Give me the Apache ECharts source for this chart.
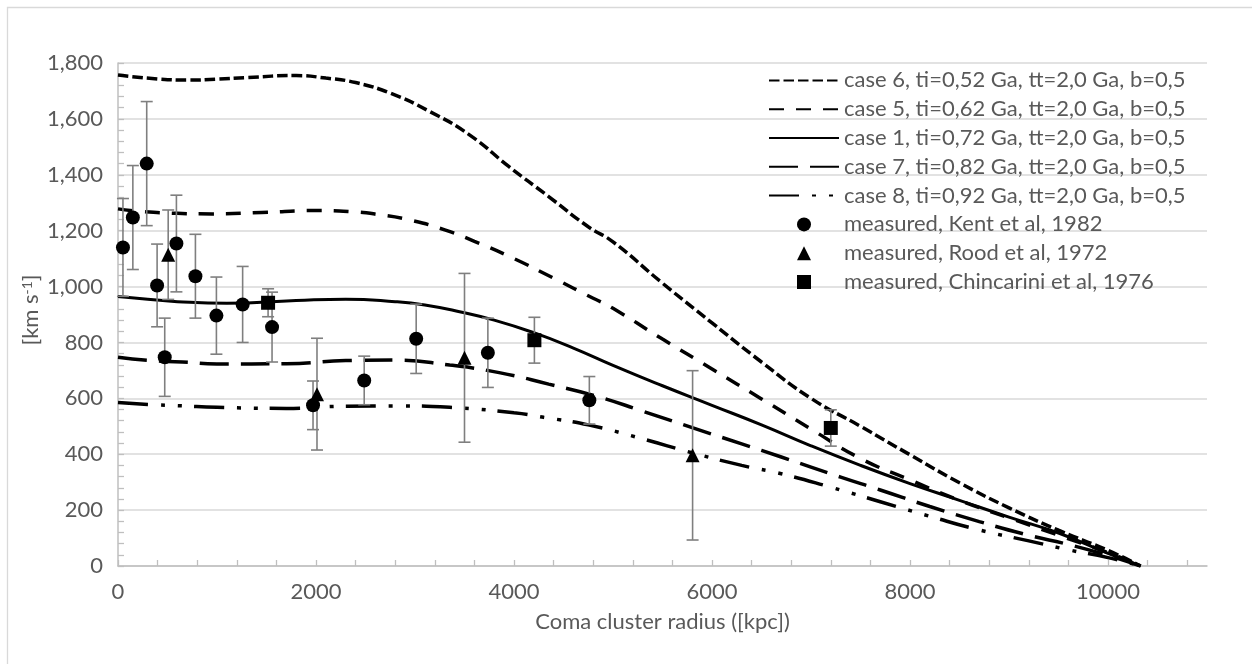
<!DOCTYPE html>
<html>
<head>
<meta charset="utf-8">
<title>Coma cluster velocity dispersion</title>
<script src="https://cdn.jsdelivr.net/npm/echarts@6/dist/echarts.min.js"></script>
<style>
  html, body { margin: 0; padding: 0; background: #ffffff; }
  #chart { width: 1252px; height: 664px; }
</style>
</head>
<body>
<div id="chart"></div>
<script>
// ---- axis tick labels ----
const radiusLabels = [0, 2000, 4000, 6000, 8000, 10000];
const velocityLabels = [0, 200, 400, 600, 800, 1000, 1200, 1400, 1600, 1800];

// ---- model curves: radius [kpc] and velocity dispersion [km/s] ----
const case6R = [0, 400, 700, 1000, 1300, 1800, 2100, 2400, 2750, 3150, 3550, 3950, 4350, 4750, 5000, 5500, 6000, 6500, 7000, 7500, 8000, 8500, 9000, 9500, 10000, 10330];
const case6V = [1757, 1743, 1739, 1742, 1748, 1755, 1746, 1730, 1692, 1626, 1543, 1429, 1322, 1214, 1160, 1012, 870, 730, 600, 500, 398, 298, 208, 128, 56, 0];

const case5R = [0, 250, 600, 950, 1450, 2000, 2350, 2600, 2950, 3300, 3600, 4000, 4400, 4800, 5000, 5500, 6000, 6500, 7000, 7500, 8000, 8500, 9000, 9500, 10000, 10330];
const case5V = [1278, 1268, 1262, 1260, 1265, 1272, 1268, 1259, 1238, 1203, 1162, 1100, 1030, 958, 922, 812, 705, 598, 490, 385, 308, 235, 172, 110, 48, 0];

const case1R = [0, 300, 600, 1100, 1800, 2300, 2800, 3100, 3450, 3800, 4200, 4600, 5000, 5500, 6000, 6500, 7000, 7500, 8000, 8500, 9000, 9500, 10000, 10330];
const case1V = [964, 955, 946, 940, 950, 955, 946, 934, 910, 880, 835, 780, 718, 645, 575, 505, 430, 360, 295, 235, 175, 118, 45, 0];

const case7R = [0, 300, 650, 1000, 1700, 2300, 2800, 3350, 3850, 4350, 4850, 5300, 5800, 6300, 6700, 7300, 7700, 8200, 8700, 9200, 9600, 10000, 10330];
const case7V = [747, 736, 730, 723, 724, 735, 737, 719, 692, 651, 606, 554, 495, 437, 390, 318, 272, 213, 159, 110, 77, 38, 0];

const case8R = [0, 300, 650, 1000, 1700, 2300, 2850, 3350, 4000, 4300, 4750, 5300, 5800, 6300, 6700, 7200, 7700, 8200, 8700, 9200, 9600, 10000, 10330];
const case8V = [585, 578, 573, 568, 564, 572, 573, 568, 548, 532, 505, 455, 405, 360, 330, 282, 230, 178, 129, 90, 58, 30, 0];

// ---- measurements: radius [kpc], velocity [km/s], error [km/s] ----
const kentR = [50, 150, 290, 395, 472, 590, 782, 994, 1259, 1556, 1970, 2487, 3012, 3736, 4761];
const kentV = [1140, 1247, 1440, 1004, 747, 1154, 1037, 896, 936, 855, 575, 664, 813, 763, 593];
const kentE = [175, 186, 222, 148, 140, 173, 150, 138, 136, 125, 87, 87, 124, 124, 85];

const roodR = [507, 2010, 3500, 5804];
const roodV = [1114, 615, 745, 396];
const roodE = [160, 200, 302, 303];

const chincR = [1516, 4206, 7200];
const chincV = [942, 808, 494];
const chincE = [50, 82, 65];

// ---- styling ----
const FONT = 'Lato, "Open Sans", sans-serif';
const TEXT = '#595959';
const AXIS = '#bfbfbf';
const GRID = '#d9d9d9';
const FS = 22;

const pairs = (xs, ys) => xs.map((x, i) => [x, ys[i]]);

function curve(name, xs, ys, dash, width) {
  return {
    name, type: 'line', data: pairs(xs, ys),
    smooth: 0.5,
    symbol: 'none', z: 2,
    lineStyle: { color: '#000', width: width, type: dash },
    // no marker on the curves, so keep the legend swatch to the line alone
    itemStyle: { color: 'rgba(0,0,0,0)', borderWidth: 0 },
    emphasis: { disabled: true }
  };
}

function points(name, xs, ys, symbol) {
  return {
    name, type: 'scatter', data: pairs(xs, ys),
    symbol, symbolSize: 14, z: 5,
    itemStyle: { color: '#000', opacity: 1 },
    emphasis: { disabled: true }
  };
}

function errorBars(xs, ys, es) {
  return {
    type: 'custom', silent: true, z: 4,
    data: xs.map((x, i) => [x, ys[i] - es[i], ys[i] + es[i]]),
    encode: { x: 0, y: [1, 2] },
    renderItem(params, api) {
      const lo = api.coord([api.value(0), api.value(1)]);
      const hi = api.coord([api.value(0), api.value(2)]);
      const half = 6;
      const style = { stroke: '#7f7f7f', lineWidth: 1.6 };
      return {
        type: 'group',
        children: [
          { type: 'line', shape: { x1: lo[0], y1: lo[1], x2: hi[0], y2: hi[1] }, style },
          { type: 'line', shape: { x1: lo[0] - half, y1: lo[1], x2: lo[0] + half, y2: lo[1] }, style },
          { type: 'line', shape: { x1: hi[0] - half, y1: hi[1], x2: hi[0] + half, y2: hi[1] }, style }
        ]
      };
    }
  };
}

// minor tick positions along the radius axis
const radiusTicks = [];
for (let r = 0; r <= 10800; r += 400) radiusTicks.push(r);

const names = [
  'case 6, ti=0,52 Ga, tt=2,0 Ga, b=0,5',
  'case 5, ti=0,62 Ga, tt=2,0 Ga, b=0,5',
  'case 1, ti=0,72 Ga, tt=2,0 Ga, b=0,5',
  'case 7, ti=0,82 Ga, tt=2,0 Ga, b=0,5',
  'case 8, ti=0,92 Ga, tt=2,0 Ga, b=0,5',
  'measured, Kent et al, 1982',
  'measured, Rood et al, 1972',
  'measured, Chincarini et al, 1976'
];

// square-proportioned swatches for the marker entries of the legend
const TRIANGLE_ICON = 'path://M0,10L5,0L10,10Z';
const SQUARE_ICON = 'path://M0,0H10V10H0Z';

const chart = echarts.init(document.getElementById('chart'), null, { renderer: 'canvas' });

chart.setOption({
  animation: false,
  backgroundColor: '#ffffff',
  textStyle: { fontFamily: FONT },
  grid: { left: 118, right: 45, top: 63, bottom: 98 },
  xAxis: {
    type: 'value', min: 0, max: 11000,
    name: 'Coma cluster radius ([kpc])',
    nameLocation: 'middle', nameGap: 45,
    nameTextStyle: { color: TEXT, fontSize: FS, fontFamily: FONT },
    axisLine: { show: true, lineStyle: { color: AXIS, width: 1.5 } },
    axisTick: { show: true, inside: true, length: 6, customValues: radiusTicks, lineStyle: { color: AXIS, width: 1.3 } },
    axisLabel: { customValues: radiusLabels, color: TEXT, fontSize: FS, fontFamily: FONT, margin: 15, formatter: v => String(v) },
    splitLine: { show: false }
  },
  yAxis: {
    type: 'value', min: 0, max: 1800, interval: 200,
    axisLine: { show: true, lineStyle: { color: AXIS, width: 1.5 } },
    axisTick: { show: true, inside: true, length: 6, lineStyle: { color: AXIS, width: 1.3 } },
    minorTick: { show: true, splitNumber: 5, length: 6, lineStyle: { color: AXIS, width: 1.3 } },
    axisLabel: {
      color: TEXT, fontSize: FS, fontFamily: FONT, margin: 15,
      formatter: v => velocityLabels.includes(v) ? v.toLocaleString('en-US') : ''
    },
    splitLine: { show: true, lineStyle: { color: GRID, width: 1.5 } },
    minorSplitLine: { show: false }
  },
  legend: {
    orient: 'vertical', left: 768, top: 66, padding: 0,
    itemWidth: 70, itemHeight: 14, itemGap: 0, itemTextGap: 7,
    symbolKeepAspect: true,
    selectedMode: false,
    data: [
      names[0], names[1], names[2], names[3], names[4],
      { name: names[5], icon: 'circle' },
      { name: names[6], icon: TRIANGLE_ICON },
      { name: names[7], icon: SQUARE_ICON }
    ],
    textStyle: { color: TEXT, fontSize: FS, fontFamily: FONT, lineHeight: 28.8 }
  },
  graphic: [
    {
      type: 'rect', silent: true, z: -10,
      shape: { x: 7.5, y: 7.5, width: 1300, height: 700 },
      style: { fill: 'none', stroke: GRID, lineWidth: 1.3 }
    },
    {
      type: 'text', silent: true,
      x: 31, y: 310, rotation: Math.PI / 2,
      style: {
        text: '[km s{sup|-1}]',
        font: FS + 'px ' + FONT,
        fill: TEXT, align: 'center', verticalAlign: 'middle',
        rich: {
          sup: { fontSize: 14, fontFamily: FONT, fill: TEXT, verticalAlign: 'top', lineHeight: 22 }
        }
      }
    }
  ],
  series: [
    curve(names[0], case6R, case6V, [10.5, 4], 3.5),
    curve(names[1], case5R, case5V, [15, 12], 3.5),
    curve(names[2], case1R, case1V, 'solid', 3),
    curve(names[3], case7R, case7V, [29, 12], 3.5),
    curve(names[4], case8R, case8V, [30, 13, 4, 13, 4, 12], 3.5),
    errorBars(kentR, kentV, kentE),
    errorBars(roodR, roodV, roodE),
    errorBars(chincR, chincV, chincE),
    points(names[5], kentR, kentV, 'circle'),
    points(names[6], roodR, roodV, 'triangle'),
    points(names[7], chincR, chincV, 'rect')
  ]
});
</script>
</body>
</html>
